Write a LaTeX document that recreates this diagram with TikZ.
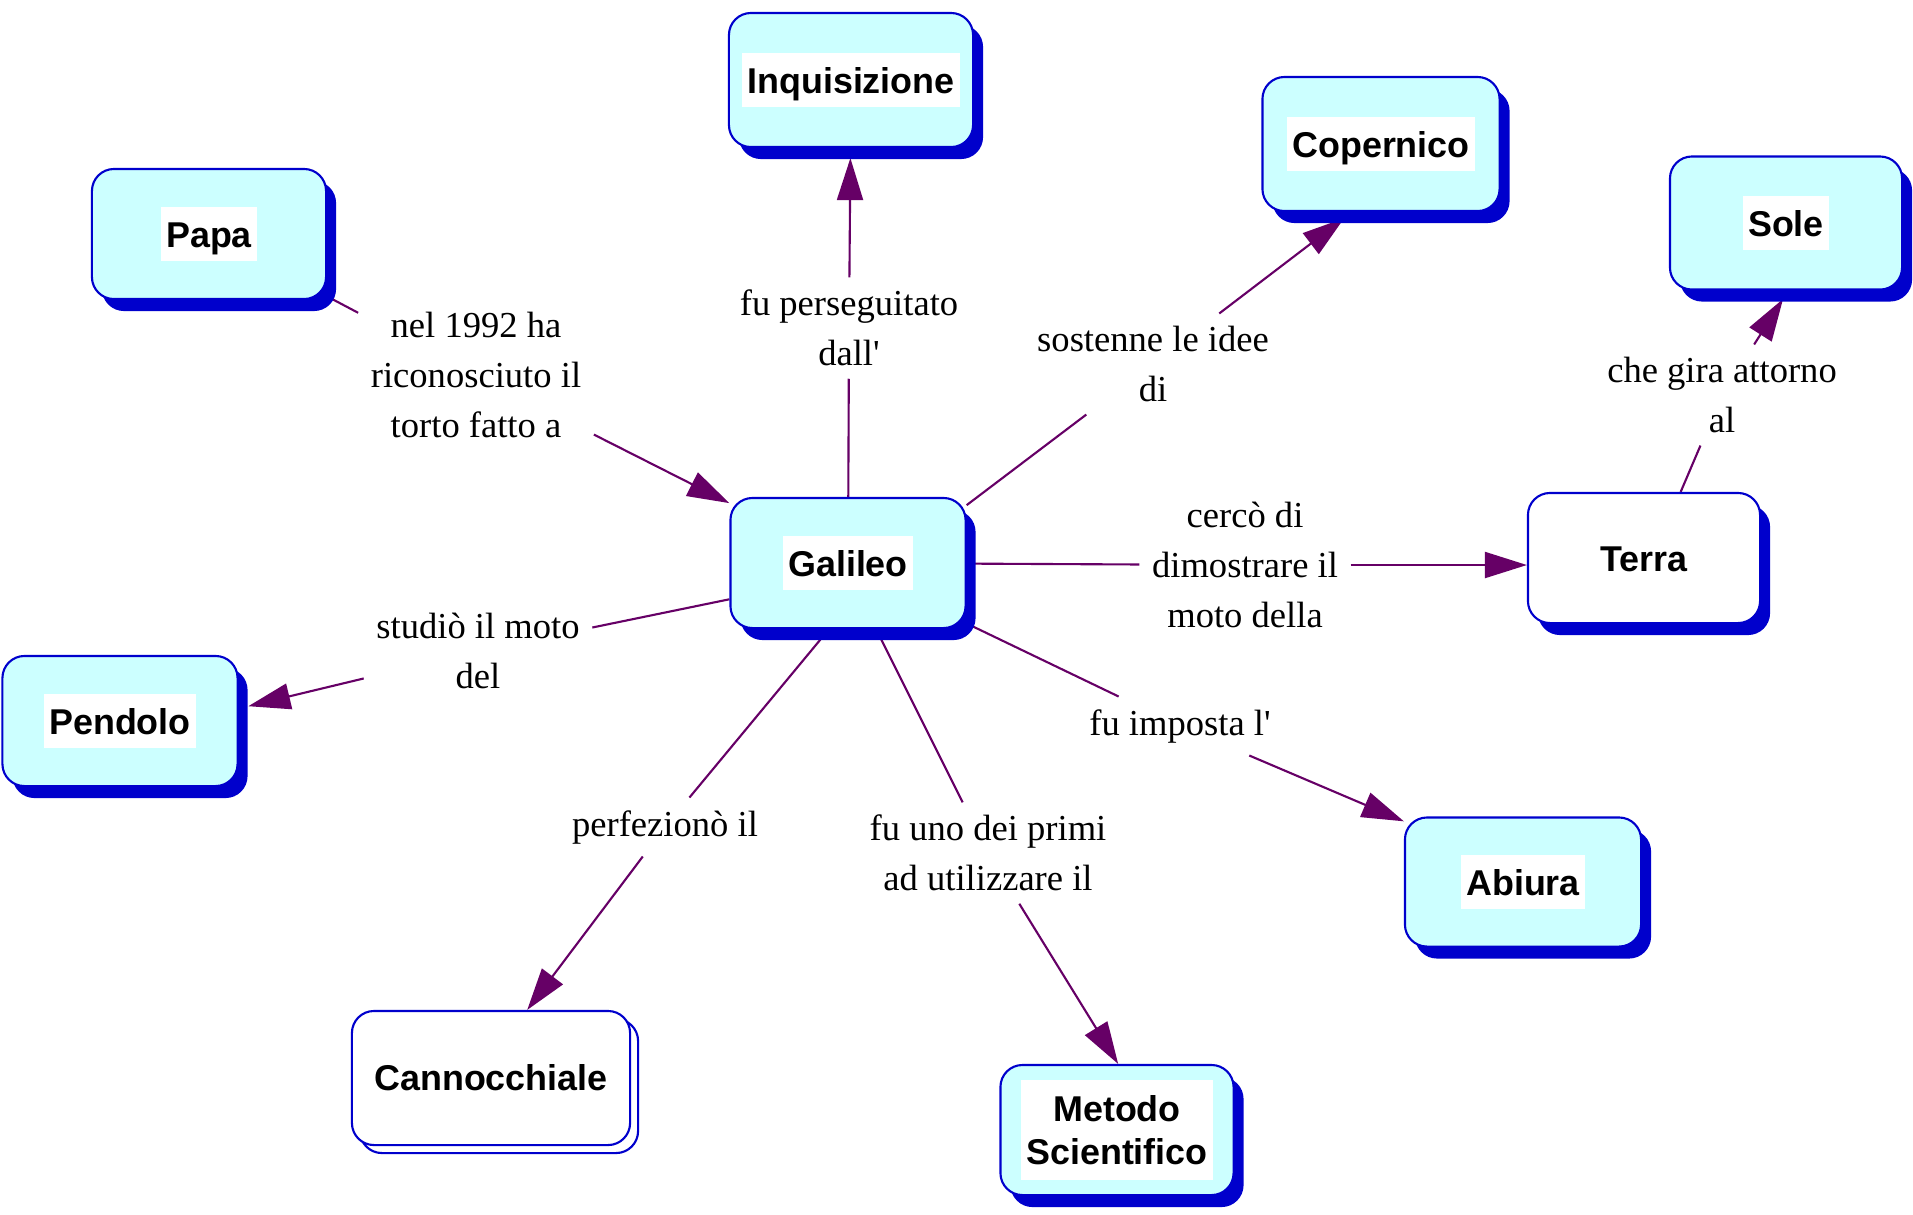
\documentclass[tikz,border=0pt]{standalone}
\usepackage{fontspec}
\setmainfont{Liberation Serif}
\newfontfamily\cmapsans{Liberation Sans}
\usetikzlibrary{arrows.meta,shadows,backgrounds}
\definecolor{cmblue}{RGB}{0,0,204}
\definecolor{cmfill}{RGB}{204,255,255}
\definecolor{cmlink}{RGB}{102,0,102}
\setlength{\fboxsep}{1.5pt}
\newcommand{\wt}[1]{\colorbox{white}{\rule[-2.2pt]{0pt}{12.3pt}#1}}
\newcommand{\wtt}[2]{\colorbox{white}{\renewcommand{\arraystretch}{0.8}%
  \begin{tabular}{@{}c@{}}\rule{0pt}{10.1pt}#1\\\rule[-2.2pt]{0pt}{11.5pt}#2\end{tabular}}}

\begin{document}
\begin{tikzpicture}[x=0.01cm,y=-0.01cm,
  box/.style={draw=cmblue,line width=0.6pt,rounded corners=2.2mm,minimum width=2.35cm,minimum height=1.3cm,
    font=\cmapsans\bfseries\fontsize{10.2}{12.2}\selectfont},
  blueshadow/.style={drop shadow={shadow xshift=1mm,shadow yshift=-1.2mm,fill=cmblue,opacity=1}},
  concept/.style={box,blueshadow,fill=cmfill},
  whitebox/.style={box,blueshadow,fill=white},
  outshadow/.style={box,fill=white,drop shadow={shadow xshift=0.8mm,shadow yshift=-0.8mm,fill=white,draw=cmblue,opacity=1}},
  phrase/.style={font=\fontsize{10.4}{14.2}\selectfont,align=center,inner sep=1.2mm},
  link/.style={draw=cmlink,line width=0.6pt},
  arrow/.style={link,-{Triangle[length=4.2mm,width=2.6mm]}},
  past/.style={shorten >=1mm}]
\useasboundingbox (0,0) rectangle (1913,1214);

\node[concept] (g) at (848,563) {\wt{Galileo}};
\node[concept,minimum width=2.44cm,minimum height=1.34cm] (i) at (851,80) {\wt{Inquisizione}};
\node[concept,minimum width=2.37cm,minimum height=1.34cm] (c) at (1381,144) {\wt{Copernico}};
\node[concept,minimum width=2.34cm] (p) at (209,234) {\wt{Papa}};
\node[concept,minimum width=2.32cm,minimum height=1.33cm] (s) at (1786,223) {\wt{Sole}};
\node[whitebox,minimum width=2.32cm] (t) at (1644,558) {\rule[-2.2pt]{0pt}{12.3pt}Terra};
\node[concept] (pe) at (120,721) {\wt{Pendolo}};
\node[concept,minimum width=2.36cm,minimum height=1.29cm] (a) at (1523,882) {\wt{Abiura}};
\node[outshadow,minimum width=2.78cm,minimum height=1.34cm] (ca) at (491,1078) {Cannocchiale};
\node[concept,minimum width=2.33cm] (m) at (1117,1130) {\wtt{Metodo}{Scientifico}};

\node[phrase] (l1) at (476,375) {nel 1992 ha\\riconosciuto il\\torto fatto a};
\node[phrase] (l2) at (849,328) {fu perseguitato\\dall\textquotesingle};
\node[phrase] (l3) at (1153,364) {sostenne le idee\\di};
\node[phrase] (l4) at (1722,395) {che gira attorno\\al};
\node[phrase] (l5) at (1245,565) {cercò di\\dimostrare il\\moto della};
\node[phrase] (l6) at (478,651) {studiò il moto\\del};
\node[phrase] (l7) at (665,827) {perfezionò il};
\node[phrase] (l8) at (988,853) {fu uno dei primi\\ad utilizzare il};
\node[phrase] (l9) at (1180,726) {fu imposta l\textquotesingle};

\begin{scope}[on background layer]
\draw[link] (p) -- (l1);
\draw[arrow] (l1) -- (g);
\draw[link] (g) -- (l2);
\draw[arrow,past] (l2) -- (i);
\draw[link] (g.26) -- (l3);
\draw[arrow,past] (l3) -- (c.247);
\draw[link] (t.61) -- (l4);
\draw[arrow,past] (l4) -- (s.-88);
\draw[link] (g) -- (l5);
\draw[arrow] (l5) -- (l5 -| t.west);
\draw[link] (g.197) -- (l6);
\draw[arrow,past] (l6) -- (pe.6);
\draw[link] (g.254) -- (l7);
\draw[arrow] (l7) -- (ca.62);
\draw[link] (g.-67) -- (l8);
\draw[arrow] (l8) -- (m.89);
\draw[link] (g.-27) -- (l9);
\draw[arrow] (l9) -- (a.153);
\end{scope}
\end{tikzpicture}
\end{document}
